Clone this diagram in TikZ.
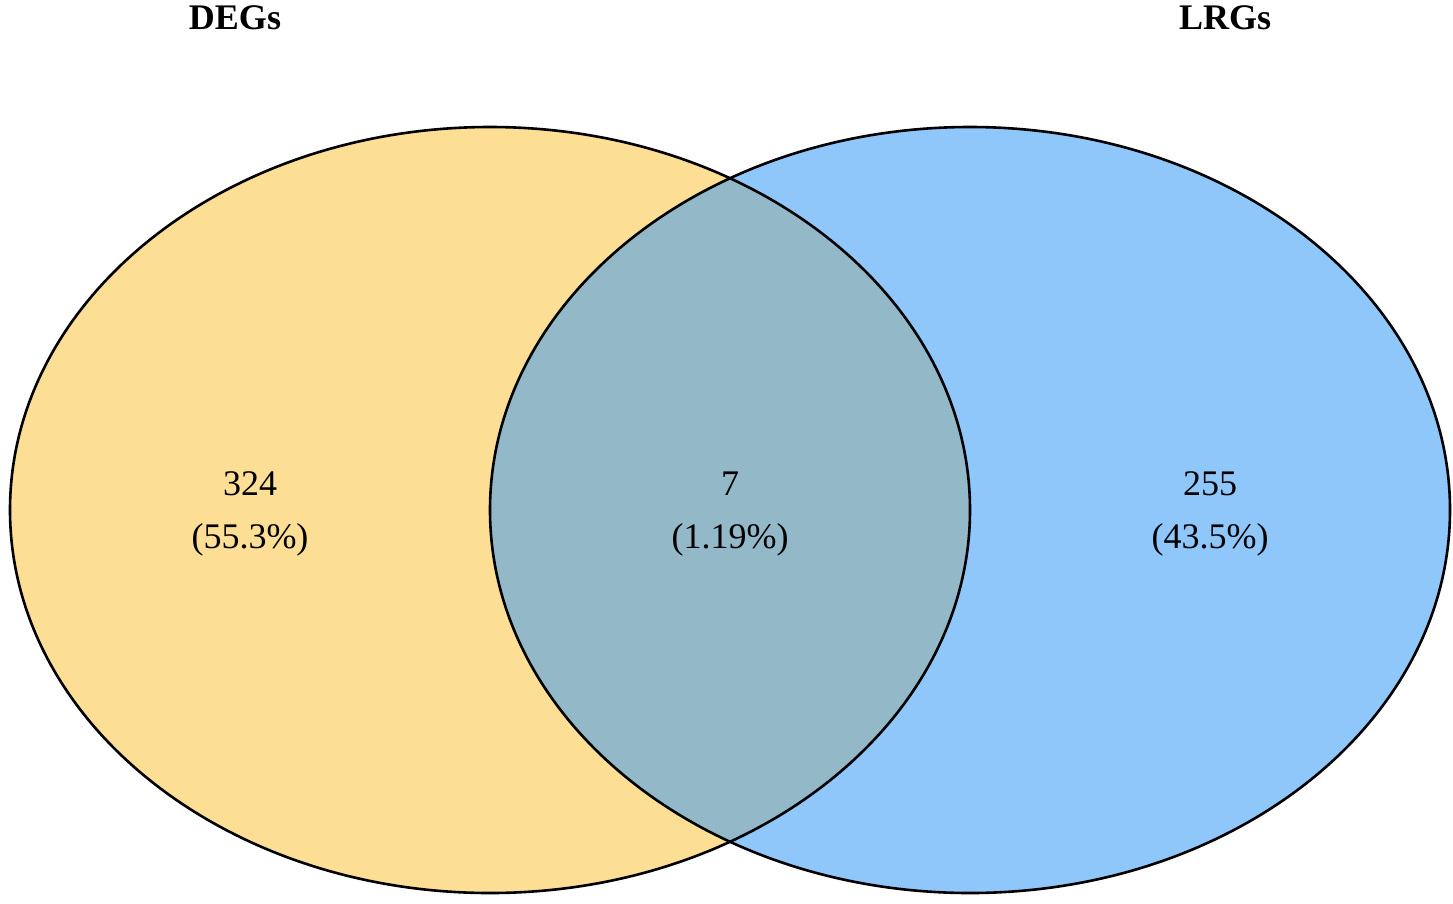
\documentclass[tikz,border=0pt]{standalone}
\usepackage{fontspec}
\setmainfont{Liberation Serif}
\usetikzlibrary{shapes.geometric}
\definecolor{degcol}{HTML}{FCDE94}
\definecolor{lrgcol}{HTML}{8FC7FB}
\definecolor{bothcol}{HTML}{93B8C8}
\tikzset{
  setell/.style={ellipse, minimum width=960pt, minimum height=766pt, inner sep=0pt, outer sep=0pt},
  cnt/.style={anchor=base, font=\fontsize{36}{36}\selectfont, inner sep=0pt},
  ttl/.style={anchor=base, font=\fontsize{36}{36}\selectfont\bfseries, inner sep=0pt},
}
\begin{document}
\begin{tikzpicture}[x=1pt,y=-1pt]
\useasboundingbox (0,0) rectangle (1453,903);
\node[setell, fill=degcol] (degs) at (490,510) {};
\node[setell, fill=lrgcol] (lrgs) at (970,510) {};
\begin{scope}
  \clip (490,510) ellipse [x radius=480, y radius=383];
  \fill[bothcol] (970,510) ellipse [x radius=480, y radius=383];
\end{scope}
\draw[line width=2.6pt] (490,510) ellipse [x radius=480, y radius=383];
\draw[line width=2.6pt] (970,510) ellipse [x radius=480, y radius=383];
\node[ttl] (t1) at (235,29) {DEGs};
\node[ttl] (t2) at (1225,29) {LRGs};
\node[cnt] (a1) at (250,495) {324};
\node[cnt] (a2) at (250,548) {(55.3\%)};
\node[cnt] (b1) at (730,495) {7};
\node[cnt] (b2) at (730,548) {(1.19\%)};
\node[cnt] (c1) at (1210,495) {255};
\node[cnt] (c2) at (1210,548) {(43.5\%)};
\end{tikzpicture}
\end{document}
